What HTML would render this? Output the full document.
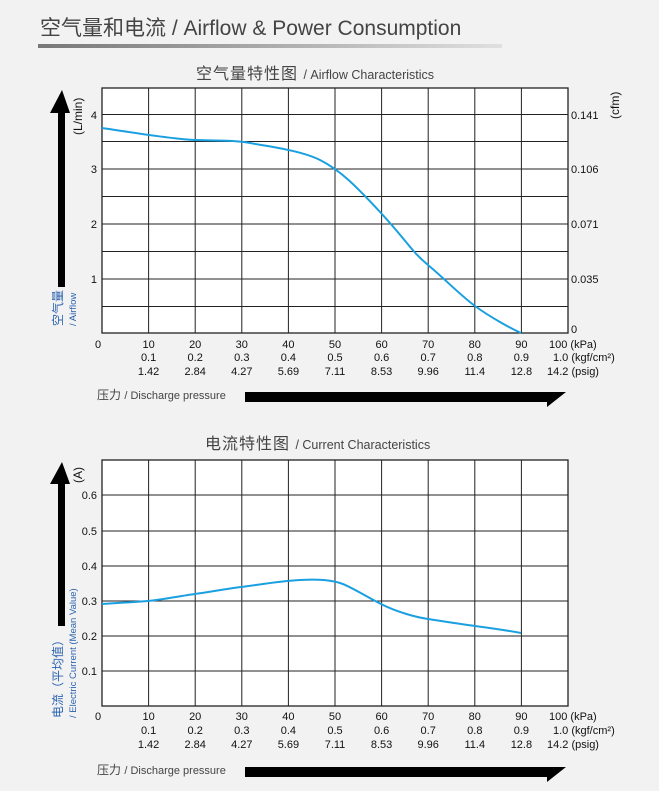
<!DOCTYPE html>
<html><head><meta charset="utf-8"><style>
body{margin:0;background:#f2f2f2;}
svg{display:block;font-family:"Liberation Sans","Noto Sans CJK SC",sans-serif;}
</style></head><body>
<svg width="659" height="791" viewBox="0 0 659 791">
<defs><linearGradient id="g" x1="0" x2="1"><stop offset="0" stop-color="#777"/><stop offset="1" stop-color="#e0e0e0"/></linearGradient></defs>
<rect width="659" height="791" fill="#f2f2f2"/>
<text x="40" y="35" font-size="21" fill="#444">空气量和电流 / Airflow &amp; Power Consumption</text>
<rect x="38" y="44" width="464" height="4" fill="url(#g)"/>

<!-- Chart 1 -->
<text x="196" y="79" font-size="16" fill="#444" letter-spacing="1">空气量特性图 <tspan font-size="12.5" letter-spacing="0">/ Airflow Characteristics</tspan></text>
<rect x="102" y="88" width="466" height="245" fill="#fff" stroke="#222" stroke-width="1.3"/>
<g stroke="#222" stroke-width="1">
<path d="M148.6 88V333M195.2 88V333M241.8 88V333M288.4 88V333M335 88V333M381.6 88V333M428.2 88V333M474.8 88V333M521.4 88V333"/>
<path d="M102 114.5H568M102 141.5H568M102 169H568M102 196.5H568M102 224H568M102 251.5H568M102 279H568M102 306.5H568"/>
</g>
<path d="M102 128 C130 132,170 139,195 140 S235 140,250 143 S300 150,320 160 S355 185,381 213 S410 250,428 265 S460 295,475 306 S510 328,521 333" fill="none" stroke="#1aa0e0" stroke-width="2"/>
<g font-size="11" fill="#111" text-anchor="end">
<text x="97" y="119">4</text><text x="97" y="173">3</text><text x="97" y="228">2</text><text x="97" y="283">1</text>
</g>
<g font-size="11" fill="#111">
<text x="571" y="119">0.141</text><text x="571" y="173">0.106</text><text x="571" y="228">0.071</text><text x="571" y="283">0.035</text><text x="571" y="333">0</text>
</g>
<text transform="translate(82,135) rotate(-90)" font-size="12" fill="#111">(L/min)</text>
<text transform="translate(619,119) rotate(-90)" font-size="12" fill="#111">(cfm)</text>
<path d="M58 287V113H50L62 90L70 113H65V287Z" fill="#000"/>
<text transform="translate(62,326) rotate(-90)" font-size="12" fill="#2a63b0">空气量</text>
<text transform="translate(76,326) rotate(-90)" font-size="9.5" fill="#2a63b0">/ Airflow</text>
<g font-size="11" fill="#111" text-anchor="middle">
<text x="98" y="348">0</text>
<text x="148.6" y="348">10</text><text x="195.2" y="348">20</text><text x="241.8" y="348">30</text><text x="288.4" y="348">40</text><text x="335" y="348">50</text><text x="381.6" y="348">60</text><text x="428.2" y="348">70</text><text x="474.8" y="348">80</text><text x="521.4" y="348">90</text>
<text x="148.6" y="361">0.1</text><text x="195.2" y="361">0.2</text><text x="241.8" y="361">0.3</text><text x="288.4" y="361">0.4</text><text x="335" y="361">0.5</text><text x="381.6" y="361">0.6</text><text x="428.2" y="361">0.7</text><text x="474.8" y="361">0.8</text><text x="521.4" y="361">0.9</text>
<text x="148.6" y="375">1.42</text><text x="195.2" y="375">2.84</text><text x="241.8" y="375">4.27</text><text x="288.4" y="375">5.69</text><text x="335" y="375">7.11</text><text x="381.6" y="375">8.53</text><text x="428.2" y="375">9.96</text><text x="474.8" y="375">11.4</text><text x="521.4" y="375">12.8</text>
</g>
<g font-size="11" fill="#111">
<text x="549" y="348">100 (kPa)</text><text x="553" y="361">1.0 (kgf/cm²)</text><text x="547" y="375">14.2 (psig)</text>
</g>
<text x="97" y="399" font-size="12" fill="#444">压力 <tspan font-size="11">/ Discharge pressure</tspan></text>
<path d="M245 392H566L547 407V402H245Z" fill="#000"/>

<!-- Chart 2 -->
<text x="205" y="449" font-size="16" fill="#444" letter-spacing="1">电流特性图 <tspan font-size="12.5" letter-spacing="0">/ Current Characteristics</tspan></text>
<rect x="102" y="460" width="466" height="246" fill="#fff" stroke="#222" stroke-width="1.3"/>
<g stroke="#222" stroke-width="1">
<path d="M148.6 460V706M195.2 460V706M241.8 460V706M288.4 460V706M335 460V706M381.6 460V706M428.2 460V706M474.8 460V706M521.4 460V706"/>
<path d="M102 495H568M102 531H568M102 566H568M102 601H568M102 636H568M102 671H568"/>
</g>
<path d="M102 604 C120 603,135 602,148 601 S180 596,195 594 S225 589,241 587 S280 581,300 580 S330 580,340 583 S365 596,381 604 S415 617,428 619 S460 624,475 626 S510 631,521 633" fill="none" stroke="#1aa0e0" stroke-width="2"/>
<g font-size="11" fill="#111" text-anchor="end">
<text x="97" y="499">0.6</text><text x="97" y="535">0.5</text><text x="97" y="570">0.4</text><text x="97" y="605">0.3</text><text x="97" y="640">0.2</text><text x="97" y="675">0.1</text>
</g>
<text transform="translate(82,483) rotate(-90)" font-size="12" fill="#111">(A)</text>
<path d="M58 626V484H50L62 462L70 484H65V626Z" fill="#000"/>
<text transform="translate(62,718) rotate(-90)" font-size="12" fill="#2a63b0">电流（平均值）</text>
<text transform="translate(76,718) rotate(-90)" font-size="9.5" fill="#2a63b0">/ Electric Current (Mean Value)</text>
<g font-size="11" fill="#111" text-anchor="middle">
<text x="98" y="720">0</text>
<text x="148.6" y="720">10</text><text x="195.2" y="720">20</text><text x="241.8" y="720">30</text><text x="288.4" y="720">40</text><text x="335" y="720">50</text><text x="381.6" y="720">60</text><text x="428.2" y="720">70</text><text x="474.8" y="720">80</text><text x="521.4" y="720">90</text>
<text x="148.6" y="734">0.1</text><text x="195.2" y="734">0.2</text><text x="241.8" y="734">0.3</text><text x="288.4" y="734">0.4</text><text x="335" y="734">0.5</text><text x="381.6" y="734">0.6</text><text x="428.2" y="734">0.7</text><text x="474.8" y="734">0.8</text><text x="521.4" y="734">0.9</text>
<text x="148.6" y="748">1.42</text><text x="195.2" y="748">2.84</text><text x="241.8" y="748">4.27</text><text x="288.4" y="748">5.69</text><text x="335" y="748">7.11</text><text x="381.6" y="748">8.53</text><text x="428.2" y="748">9.96</text><text x="474.8" y="748">11.4</text><text x="521.4" y="748">12.8</text>
</g>
<g font-size="11" fill="#111">
<text x="549" y="720">100 (kPa)</text><text x="553" y="734">1.0 (kgf/cm²)</text><text x="547" y="748">14.2 (psig)</text>
</g>
<text x="97" y="774" font-size="12" fill="#444">压力 <tspan font-size="11">/ Discharge pressure</tspan></text>
<path d="M245 767H566L547 782V777H245Z" fill="#000"/>
</svg>
</body></html>
